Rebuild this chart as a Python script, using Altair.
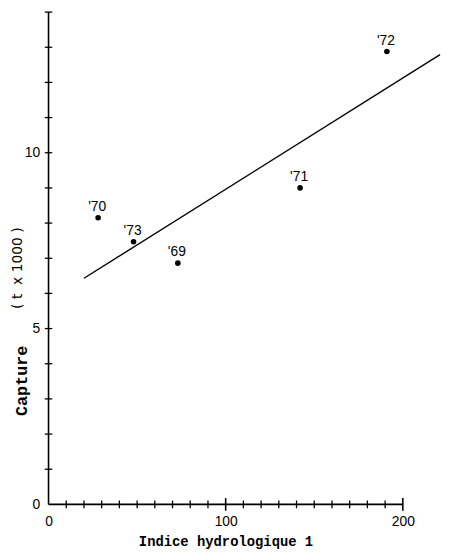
import altair as alt
import pandas as pd

# ---- data ----
years = ["'69", "'70", "'71", "'72", "'73"]
indice = [73, 28, 142, 191, 48]
capture = [6.86, 8.15, 9.0, 12.88, 7.47]

fit_x = [20, 221]
fit_y = [6.43, 12.79]

x_label_values = [0, 100, 200]
y_label_values = [0, 5, 10]
x_minor_ticks = [10, 20, 30, 40, 50, 60, 70, 80, 90, 110, 120, 130, 140, 150, 160, 170, 180, 190]
x_major_ticks = [100, 200]
y_ticks = [1, 2, 3, 4, 5, 6, 7, 8, 9, 10, 11, 12, 13, 14]
x_axis_span = [0, 200]
y_axis_span = [0, 14]

x_title = "Indice hydrologique 1"
y_title_main = "Capture"
y_title_unit = "(\u00a0t\u00a0\u00a0x\u00a01000\u00a0)"

# tick half-lengths, in data units of the crossing axis
XT_MINOR = 0.11   # ~4 px on the capture scale
XT_MAJOR = 0.18   # ~6.5 px
YT_HALF = 2.1     # ~3.8 px on the indice scale

# ---- tables ----
pts = pd.DataFrame({"indice": indice, "capture": capture, "year": years})
fit = pd.DataFrame({"indice": fit_x, "capture": fit_y})
xminor = pd.DataFrame({"indice": x_minor_ticks,
                       "capture": [-XT_MINOR] * len(x_minor_ticks),
                       "capture2": [XT_MINOR] * len(x_minor_ticks)})
xmajor = pd.DataFrame({"indice": x_major_ticks,
                       "capture": [-XT_MAJOR] * len(x_major_ticks),
                       "capture2": [XT_MAJOR] * len(x_major_ticks)})
yt = pd.DataFrame({"indice": [-YT_HALF] * len(y_ticks),
                   "indice2": [YT_HALF] * len(y_ticks),
                   "capture": y_ticks})
xline = pd.DataFrame({"indice": [x_axis_span[0]], "indice2": [x_axis_span[1]], "capture": [0]})
yline = pd.DataFrame({"indice": [0], "capture": [y_axis_span[0]], "capture2": [y_axis_span[1]]})
ytitle1 = pd.DataFrame({"t": [y_title_main]})
ytitle2 = pd.DataFrame({"t": [y_title_unit]})

xs = alt.Scale(domain=[0, 221], nice=False, zero=False)
ys = alt.Scale(domain=[0, 14], nice=False, zero=False)

xaxis = alt.Axis(
    values=x_label_values, domain=False, ticks=False, tickSize=0, grid=False,
    labelFont="Liberation Sans", labelFontSize=14, labelColor="black",
    labelPadding=10, labelFlush=False,
    title=x_title, titleFont="Liberation Mono", titleFontSize=14,
    titleFontWeight="bold", titleColor="black",
    titleX=179, titleY=42, titleBaseline="alphabetic", titleAlign="center",
)
yaxis = alt.Axis(
    values=y_label_values, domain=False, ticks=False, tickSize=0, grid=False,
    labelFont="Liberation Sans", labelFontSize=14, labelColor="black",
    labelPadding=9, labelFlush=False, title=None,
)

X = alt.X("indice:Q", scale=xs, axis=xaxis)
Y = alt.Y("capture:Q", scale=ys, axis=yaxis)

points = alt.Chart(pts).mark_circle(size=32, color="black", opacity=1).encode(x=X, y=Y)
labels = alt.Chart(pts).mark_text(
    font="Liberation Sans", fontSize=14, color="black",
    baseline="bottom", align="center", dy=-4, dx=-1,
).encode(x=X, y=Y, text="year:N")
line = alt.Chart(fit).mark_line(color="black", strokeWidth=1.4).encode(x=X, y=Y)

xax = alt.Chart(xline).mark_rule(color="black", strokeWidth=1.6).encode(
    x=X, x2="indice2:Q", y=Y)
yax = alt.Chart(yline).mark_rule(color="black", strokeWidth=1.6).encode(
    x=X, y=Y, y2="capture2:Q")

xminor_t = alt.Chart(xminor).mark_rule(color="black", strokeWidth=1.3).encode(
    x=X, y=Y, y2="capture2:Q")
xmajor_t = alt.Chart(xmajor).mark_rule(color="black", strokeWidth=1.6).encode(
    x=X, y=Y, y2="capture2:Q")
y_t = alt.Chart(yt).mark_rule(color="black", strokeWidth=1.3).encode(
    x=X, x2="indice2:Q", y=Y)

yt1 = alt.Chart(ytitle1).mark_text(
    angle=270, font="Liberation Mono", fontSize=17, fontWeight="bold", color="black",
    align="center", baseline="middle",
).encode(x=alt.value(-27), y=alt.value(373), text="t:N")
yt2 = alt.Chart(ytitle2).mark_text(
    angle=270, font="DejaVu Sans", fontSize=14, color="black",
    align="center", baseline="middle",
).encode(x=alt.value(-31), y=alt.value(259), text="t:N")

chart = alt.layer(
    xax, yax, xminor_t, xmajor_t, y_t, line, points, labels, yt1, yt2
).properties(
    width=396, height=498,
    padding={"left": 41, "top": 1, "right": 2, "bottom": 43},
    autosize=alt.AutoSizeParams(type="none"),
    background="white",
).configure_view(stroke=None)

chart.save("out.html", embed_options={"renderer": "svg", "actions": False})
